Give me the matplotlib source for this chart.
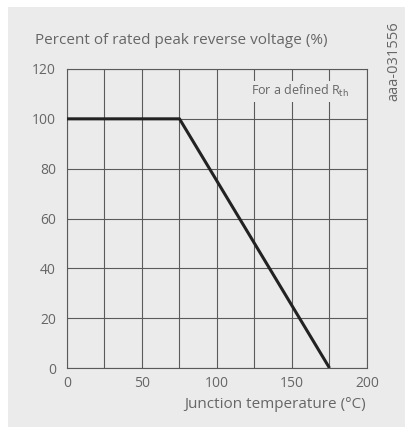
import matplotlib.pyplot as plt
from matplotlib.patches import Rectangle

temp = [0, 75, 175]
pct = [100, 100, 0]
xticks = [0, 50, 100, 150, 200]
yticks = [0, 20, 40, 60, 80, 100, 120]

plt.rcParams['font.family'] = ['Open Sans', 'DejaVu Sans']
txt = '#666666'
grid = '#5a5a5a'
bg = '#ebebeb'

fig = plt.figure(figsize=(4.06, 4.34), dpi=100)
fig.patches.append(Rectangle((8 / 406, 1 - 427 / 434), 1 - 8 / 406, (427 - 7) / 434,
                             transform=fig.transFigure, facecolor=bg, edgecolor='none', zorder=-5))

ax = fig.add_axes([67 / 406, 1 - 368 / 434, 300 / 406, 299 / 434])
ax.set_facecolor(bg)
ax.set_xlim(0, 200)
ax.set_ylim(0, 120)
ax.set_xticks(xticks, labels=[str(t) for t in xticks])
ax.set_xticks([25, 75, 125, 175], minor=True)
ax.set_yticks(yticks)
ax.grid(True, which='both', color=grid, lw=0.8)
ax.tick_params(which='both', length=0, colors=txt, labelsize=10)
ax.tick_params(axis='x', pad=6)
ax.tick_params(axis='y', pad=8)
for s in ax.spines.values():
    s.set_color(grid)
    s.set_linewidth(0.8)

ax.plot(temp, pct, color='#222222', lw=2.2, solid_capstyle='butt', zorder=3)

ax.text(188, 111, r'For a defined R$_{\rm th}$', ha='right', va='center', color=txt, fontsize=9,
        bbox=dict(facecolor=bg, edgecolor='none', pad=2), zorder=4)

fig.text(35 / 406, 1 - 40 / 434, 'Percent of rated peak reverse voltage (%)', color=txt,
         fontsize=11, ha='left', va='center')
fig.text(366 / 406, 1 - 404 / 434, 'Junction temperature (°C)', color=txt,
         fontsize=11, ha='right', va='center')
fig.text(394 / 406, 1 - 61 / 434, 'aaa-031556', color=txt, fontsize=10.5,
         rotation=90, ha='center', va='center')

fig.savefig('out.png', dpi=100, facecolor='white')
